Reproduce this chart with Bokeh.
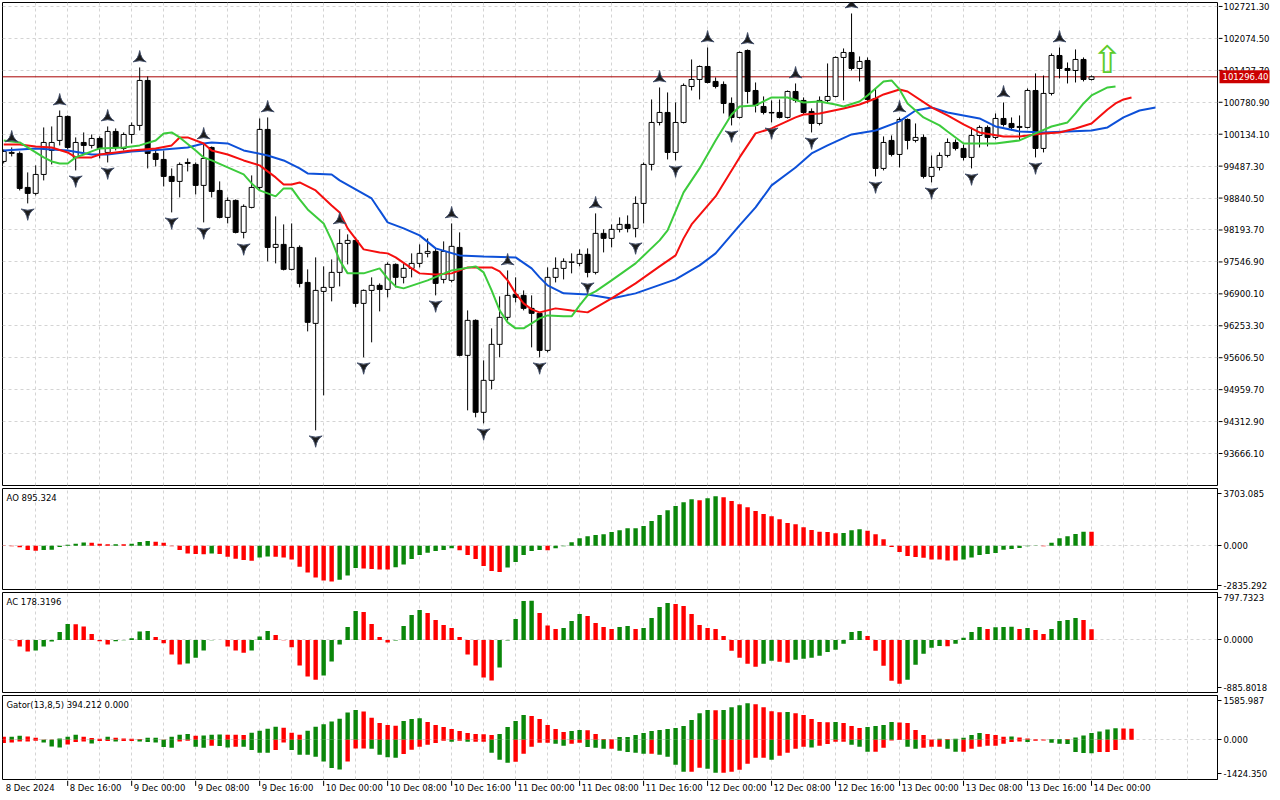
import numpy as np
from bokeh.plotting import figure
from bokeh.layouts import column, row
from bokeh.models import (Range1d, FixedTicker, CustomJSTickFormatter,
                          Span, ColumnDataSource, Grid)
from bokeh.embed import file_html
from bokeh.resources import INLINE
from bokeh.core.properties import value

# ---------------- data (H1 candles, 8 Dec 08:00 -> 14 Dec 00:00) ----------------
open_ = [99583, 99745, 99745, 99056, 98935, 99319, 99805, 100008, 100494, 99664,
         99967, 99907, 100048, 99765, 100190, 99846, 100129, 100312, 101223, 99745,
         99623, 99279, 99178, 99562, 99522, 99097, 99866, 98995, 98449, 98793,
         98145, 98651, 99056, 100231, 97841, 97902, 97396, 97841, 97132, 96302,
         96950, 97031, 97335, 97922, 97983, 96707, 96970, 97072, 96990, 97497,
         97234, 97416, 97517, 97720, 97760, 97193, 97173, 97841, 95654, 96363,
         94500, 95148, 95877, 96424, 96889, 96869, 96606, 96505, 95755, 97234,
         97416, 97538, 97517, 97700, 97335, 98125, 98024, 98206, 98307, 98226,
         98732, 99522, 100372, 100575, 99765, 100372, 101101, 101243, 101506, 101203,
         101142, 100757, 100474, 101830, 101020, 100696, 100575, 100575, 100474, 101000,
         100818, 100595, 100352, 100818, 100899, 101689, 101790, 101466, 101628, 100858,
         99441, 100008, 99724, 100433, 100008, 100069, 99279, 99461, 99704, 99967,
         99846, 99664, 100109, 100271, 100069, 100453, 100352, 100271, 100271, 101020,
         99846, 100960, 101729, 101466, 101425, 101648, 101243]
high = [99826, 99866, 99785, 99360, 99502, 100271, 100291, 100615, 100514, 100069,
        100170, 100129, 100089, 100291, 100251, 100170, 100372, 101486, 101304, 99846,
        99805, 99441, 99562, 99643, 99562, 99927, 99886, 99178, 98854, 98813,
        98712, 99299, 100453, 100474, 98469, 98307, 98327, 97882, 97396, 97639,
        97457, 97598, 98206, 98105, 98044, 96990, 97234, 97112, 97538, 97517,
        97517, 97720, 97902, 98024, 97821, 97963, 98327, 98145, 96565, 96383,
        95553, 96201, 96849, 97375, 97234, 96970, 96869, 96525, 97436, 97639,
        97619, 97720, 97801, 97821, 98530, 98206, 98307, 98449, 98489, 98874,
        99562, 100838, 101081, 100980, 100777, 101162, 101648, 101527, 101891, 101284,
        101203, 100879, 101810, 101851, 101182, 100899, 100818, 100838, 101020, 101162,
        100879, 100656, 100899, 101567, 101709, 101871, 102580, 101709, 101689, 101061,
        100089, 100109, 100474, 100453, 100352, 100129, 99704, 99765, 100048, 100028,
        99927, 100271, 100312, 100312, 100555, 100777, 100474, 100514, 101061, 101365,
        101324, 101770, 101891, 101587, 101851, 101689, 101324]
low = [99542, 99684, 98995, 98732, 98894, 99198, 99522, 99907, 99826, 99400,
       99765, 99846, 99643, 99562, 99805, 99805, 99947, 100210, 99441, 99481,
       99076, 98550, 98854, 99380, 98914, 98348, 98854, 98429, 98327, 98125,
       98024, 98631, 98995, 97558, 97517, 97375, 97375, 97031, 96140, 94135,
       94844, 96748, 97051, 97497, 96626, 95614, 95918, 96545, 96829, 97031,
       97112, 97234, 97436, 97639, 96869, 97112, 97132, 95634, 94540, 94399,
       94277, 94966, 95614, 96363, 96727, 96565, 95816, 95614, 95715, 97132,
       97193, 97315, 97457, 97234, 97294, 97740, 97841, 98145, 98145, 98044,
       98327, 99400, 100312, 99623, 99603, 100352, 101020, 100838, 101162, 101061,
       100555, 100312, 100453, 100757, 100575, 100534, 100372, 100453, 100453, 100777,
       100534, 100170, 100312, 100777, 100879, 100818, 101425, 101203, 100757, 99279,
       99400, 99684, 99461, 99826, 99967, 99238, 99157, 99400, 99664, 99805,
       99603, 99441, 99866, 99886, 100028, 100291, 100210, 100008, 100251, 99664,
       99765, 100919, 101264, 101162, 101182, 101203, 101223]
close = [99785, 99765, 99036, 98935, 99319, 99967, 99967, 100494, 99866, 99967,
         99907, 100048, 99846, 100190, 99866, 100129, 100312, 101223, 99745, 99623,
         99279, 99178, 99522, 99542, 99097, 99643, 98975, 98449, 98793, 98145,
         98672, 99056, 100231, 97841, 97902, 97396, 97841, 97112, 96323, 96970,
         97031, 97335, 97922, 97983, 96707, 96970, 97072, 96990, 97497, 97234,
         97416, 97517, 97720, 97760, 97112, 97760, 97862, 95654, 96363, 94500,
         95148, 95877, 96424, 96869, 96829, 96606, 96505, 95755, 97234, 97416,
         97558, 97548, 97700, 97335, 98125, 98024, 98206, 98307, 98226, 98732,
         99522, 100372, 100575, 99765, 100372, 101122, 101243, 101506, 101182, 101101,
         100757, 100474, 101790, 101000, 100717, 100575, 100565, 100474, 101000, 100818,
         100575, 100352, 100818, 100899, 101689, 101790, 101466, 101608, 100838, 99441,
         99967, 99724, 100433, 100008, 100069, 99279, 99461, 99704, 99967, 99846,
         99664, 100109, 100271, 100069, 100453, 100332, 100271, 100291, 101020, 99846,
         100960, 101729, 101466, 101425, 101648, 101243, 101296.4]

# Bill Williams fractals (bar indices)
fractal_up = [1, 7, 13, 17, 25, 33, 42, 56, 63, 74, 82, 88, 93, 99, 106, 112, 125, 132]
fractal_down = [3, 9, 13, 21, 25, 30, 39, 45, 54, 60, 67, 73, 79, 84, 91, 96, 101, 109, 116, 121, 129]

# Alligator (already shifted forward)
jaw_x = [0, 4, 8, 11, 13, 16, 20, 23, 25, 26, 28, 30, 33, 35, 37, 38, 41, 42, 44, 46,
         47, 48, 50, 52, 54, 57, 60, 64, 66, 67, 68, 70, 73, 76, 79, 84, 87, 89, 92, 94,
         96, 99, 101, 103, 106, 109, 112, 114, 116, 118, 122, 124, 127, 130, 133, 136, 138, 140, 142, 144]
jaw = [99805, 99846, 99805, 99724, 99724, 99785, 99826, 99866, 99947, 99967,
       99947, 99805, 99704, 99603, 99441, 99340, 99319, 99198, 99016, 98833,
       98590, 98348, 98226, 98085, 97821, 97679, 97659, 97639, 97416, 97234,
       97072, 96910, 96889, 96808, 96910, 97193, 97477, 97720, 98287, 98651,
       99097, 99461, 99745, 99907, 100129, 100210, 100393, 100615, 100676, 100575,
       100453, 100291, 100190, 100170, 100190, 100210, 100271, 100474, 100615, 100676]
teeth_x = [0, 2, 4, 6, 8, 9, 11, 12, 14, 16, 19, 21, 22, 23, 25, 26, 28, 30, 32, 34,
           35, 36, 37, 39, 41, 42, 43, 45, 47, 48, 49, 51, 52, 54, 56, 58, 61, 62, 63, 64,
           65, 66, 67, 69, 71, 73, 76, 79, 82, 84, 85, 86, 89, 92, 94, 96, 99, 100, 102, 105,
           107, 109, 110, 112, 113, 116, 118, 120, 122, 125, 127, 130, 132, 134, 136, 138, 139, 140, 141]
teeth = [99927, 99927, 99886, 99866, 99765, 99664, 99664, 99724, 99765, 99805,
         99846, 99907, 100069, 100069, 99947, 99805, 99724, 99603, 99502, 99259,
         99117, 99117, 99157, 98995, 98692, 98550, 98226, 97801, 97740, 97720,
         97639, 97416, 97315, 97294, 97315, 97436, 97436, 97355, 97173, 96910,
         96707, 96585, 96525, 96606, 96565, 96525, 96808, 97112, 97457, 97679,
         98024, 98307, 98874, 99664, 100150, 100251, 100474, 100534, 100555, 100656,
         100737, 100858, 100939, 101041, 101000, 100676, 100514, 100332, 100170, 100089,
         100089, 100150, 100170, 100251, 100352, 100636, 100757, 100838, 100879]
lips_x = [0, 2, 4, 5, 6, 7, 8, 9, 10, 11, 12, 15, 17, 19, 20, 21, 22, 24, 25, 26,
          28, 30, 31, 32, 34, 35, 36, 37, 38, 40, 41, 42, 43, 45, 47, 48, 49, 50, 53, 56,
          59, 60, 61, 62, 63, 64, 65, 67, 68, 70, 71, 72, 73, 74, 76, 79, 82, 83, 85, 87,
          89, 91, 92, 94, 96, 98, 100, 102, 104, 105, 107, 108, 110, 111, 112, 113, 115, 117, 118, 120,
          122, 124, 127, 129, 131, 133, 134, 135, 136, 138, 139]
lips = [100008, 99967, 99765, 99664, 99583, 99542, 99542, 99664, 99724, 99785,
        99846, 99866, 99907, 100008, 100150, 100170, 100069, 99805, 99664, 99603,
        99461, 99319, 99137, 98995, 98874, 99036, 99036, 98813, 98611, 98327,
        97983, 97578, 97315, 97315, 97416, 97213, 97051, 97011, 97173, 97375,
        97457, 97335, 96970, 96565, 96323, 96201, 96201, 96404, 96464, 96444,
        96444, 96667, 96869, 96950, 97173, 97517, 97983, 98185, 98955, 99441,
        100008, 100534, 100696, 100717, 100879, 100879, 100777, 100798, 100737, 100696,
        100798, 100919, 101203, 101223, 101041, 100757, 100474, 100312, 100190, 99947,
        99947, 99947, 100008, 100150, 100291, 100372, 100555, 100757, 100919, 101081,
        101101]

current_price = 101296.40
current_price_label = "101296.40"
signal_bar = [138]
signal_price = [101640]

# Awesome Oscillator
ao = [-15, -43, -108, -281, -324, -281, -270, -86, 65, 130,
      200, 190, 130, 86, 100, 90, 120, 238, 302, 259,
      194, -43, -281, -497, -540, -550, -497, -540, -713, -842,
      -929, -972, -756, -691, -713, -756, -886, -1361, -1728, -2052,
      -2246, -2311, -2203, -1922, -1447, -1469, -1512, -1534, -1540, -1400,
      -1210, -864, -605, -454, -346, -281, -173, -302, -605, -864,
      -1318, -1642, -1706, -1404, -1058, -605, -346, -281, -302, -173,
      -43, 216, 475, 605, 691, 734, 886, 994, 1123, 1130,
      1274, 1598, 1987, 2290, 2570, 2808, 3002, 2938, 3067, 3197,
      3132, 2894, 2678, 2484, 2246, 2052, 1901, 1706, 1469, 1382,
      1188, 1015, 907, 886, 799, 821, 994, 1058, 972, 734,
      410, -86, -410, -670, -734, -778, -886, -890, -950, -955,
      -886, -756, -605, -540, -475, -270, -216, -151, -43, -20,
      -30, 194, 475, 605, 756, 905, 895.324]
# Accelerator Oscillator
ac = [-3, -5, -112, -196, -179, -112, -28, 134, 269, 265,
      224, 101, -22, -78, -22, -5, 28, 140, 148, 50,
      -56, -246, -414, -398, -302, -179, -8, -3, -112, -179,
      -218, -179, 56, 151, 84, -5, -123, -431, -616, -672,
      -599, -364, -78, 218, 487, 470, 269, 50, -45, -11,
      235, 420, 504, 454, 336, 252, 202, 50, -246, -431,
      -633, -683, -465, -11, 353, 655, 660, 454, 241, 185,
      202, 319, 437, 403, 286, 218, 185, 218, 235, 185,
      202, 370, 554, 622, 605, 571, 437, 252, 202, 185,
      67, -185, -302, -403, -454, -403, -353, -370, -386, -336,
      -319, -302, -269, -202, -168, -67, 134, 151, 67, -185,
      -437, -689, -739, -672, -420, -235, -134, -101, -106, -67,
      34, 134, 218, 185, 212, 216, 222, 185, 202, 168,
      101, 185, 319, 336, 370, 336, 178.3196]
# Gator oscillator: upper |jaw-teeth|, lower -|teeth-lips|
gator_up = [107, 110, 143, 119, 72, 10, 5, 48, 107, 179,
            107, 60, 36, 107, 72, 48, 36, 24, 72, 76,
            5, 107, 179, 203, 143, 150, 179, 185, 179, 175,
            170, 250, 322, 394, 465, 430, 250, 179, 322, 465,
            560, 656, 752, 978, 1062, 1014, 787, 597, 525, 500,
            668, 740, 775, 632, 525, 453, 382, 310, 239, 203,
            200, 167, 203, 453, 668, 883, 847, 740, 525, 382,
            274, 310, 346, 340, 203, 24, 20, 95, 100, 167,
            239, 310, 346, 382, 418, 489, 704, 954, 1062, 1060,
            1065, 1169, 1241, 1312, 1276, 1169, 1026, 990, 995, 954,
            883, 740, 632, 625, 640, 597, 489, 418, 453, 489,
            525, 632, 620, 597, 346, 167, 12, 36, 30, 36,
            72, 167, 239, 203, 167, 107, 119, 84, 48, 20,
            10, 24, 30, 28, 84, 155, 239, 298, 370, 410,
            400, 394.212]
gator_down = [-119, -95, -60, -60, -36, -95, -239, -274, -167, -84,
              -60, -131, -48, -48, -60, -48, -48, -60, -84, -95,
              -262, -286, -60, -36, -250, -286, -215, -220, -274, -250,
              -255, -370, -465, -470, -370, -95, -370, -537, -540, -609,
              -776, -1014, -1062, -776, -310, -310, -320, -537, -630, -644,
              -513, -358, -250, -179, -119, -36, -72, -36, -72, -72,
              -72, -465, -716, -823, -787, -501, -250, -107, -107, -143,
              -215, -143, -107, -262, -286, -322, -322, -394, -441, -465,
              -501, -501, -537, -608, -895, -1145, -1145, -1002, -1038, -1181,
              -1181, -1145, -1074, -859, -644, -644, -716, -573, -465, -322,
              -250, -274, -215, -150, -72, -72, -179, -250, -429, -429,
              -286, -24, -12, -250, -322, -286, -250, -250, -322, -429,
              -429, -322, -250, -215, -215, -143, -84, -60, -84, -40,
              -24, -107, -143, -155, -441, -477, -480, -441, -441, -370]

# axes
price_ticks = [93666.10, 94312.90, 94959.70, 95606.50, 96253.30, 96900.10, 97546.90, 98193.70,
               98840.50, 99487.30, 100134.10, 100780.90, 101427.70, 102074.50, 102721.30]
price_tick_labels = ["93666.10", "94312.90", "94959.70", "95606.50", "96253.30", "96900.10",
                     "97546.90", "98193.70", "98840.50", "99487.30", "100134.10", "100780.90",
                     "101427.70", "102074.50", "102721.30"]
main_range = (93018, 102802)
ao_range = (-2835.292, 3703.085)
ao_ticks = [-2576, 0, 3379]
ao_tick_labels = ["-2835.292", "0.000", "3703.085"]
ac_range = (-885.8018, 797.7323)
ac_ticks = [-802, 0, 714]
ac_tick_labels = ["-885.8018", "0.0000", "797.7323"]
gator_range = (-1424.350, 1585.987)
gator_ticks = [-1209, 0, 1407]
gator_tick_labels = ["-1424.350", "0.000", "1585.987"]
time_label_bars = [0, 8, 16, 24, 32, 40, 48, 56, 64, 72, 80, 88, 96, 104, 112, 120, 128, 136]
time_labels = ["8 Dec 2024", "8 Dec 16:00", "9 Dec 00:00", "9 Dec 08:00", "9 Dec 16:00",
               "10 Dec 00:00", "10 Dec 08:00", "10 Dec 16:00", "11 Dec 00:00", "11 Dec 08:00",
               "11 Dec 16:00", "12 Dec 00:00", "12 Dec 08:00", "12 Dec 16:00", "13 Dec 00:00",
               "13 Dec 08:00", "13 Dec 16:00", "14 Dec 00:00"]
ao_title = "AO 895.324"
ac_title = "AC 178.3196"
gator_title = "Gator(13,8,5) 394.212 0.000"

# ---------------- styling ----------------
W = 1278
LB = 2
RB = 61
STRIP_W = W - 1217 - 1
FONT = "DejaVu Sans"
FS = "8.5px"
GRID_C = "#d4d4d4"
HIST_G = "#0a870a"
HIST_R = "#ff0000"
JAW_C = "#0d50d8"
TEETH_C = "#f50f0f"
LIPS_C = "#3ccb3c"
FR_GAP = 190

idx = list(range(len(close)))
xr = Range1d(-0.15, 151.75)
vgrid = list(range(4, 152, 4))


def mkfig(width, h, yr, top, bottom, right, yaxis=True):
    p = figure(width=width, height=h, x_range=xr, y_range=Range1d(*yr), output_backend="svg",
               toolbar_location=None, x_axis_location=None,
               y_axis_location="right" if yaxis else None,
               min_border_left=LB, min_border_right=right, min_border_top=top,
               min_border_bottom=bottom, background_fill_color="white",
               border_fill_color="white")
    p.outline_line_color = "black"
    p.outline_line_width = 1
    p.outline_line_alpha = 1.0
    if len(p.xgrid) == 0:
        p.add_layout(Grid(dimension=0), "center")
    p.xgrid.ticker = FixedTicker(ticks=vgrid)
    p.xgrid.grid_line_color = GRID_C
    p.xgrid.grid_line_dash = "3 3"
    return p


def style_axis(p, ticks, labels, grid_ticks):
    p.ygrid.ticker = FixedTicker(ticks=grid_ticks)
    p.ygrid.grid_line_color = GRID_C
    p.ygrid.grid_line_dash = "3 3"
    ax = p.yaxis[0]
    ax.ticker = FixedTicker(ticks=ticks)
    ax.formatter = CustomJSTickFormatter(args=dict(labels=labels), code="return labels[index];")
    ax.axis_line_color = "black"
    ax.major_tick_line_color = "black"
    ax.major_tick_out = 4
    ax.major_tick_in = 0
    ax.minor_tick_line_color = None
    ax.major_label_standoff = 2
    ax.major_label_text_font = FONT
    ax.major_label_text_font_size = FS
    ax.major_label_text_color = "black"


def add_title(p, yr, text):
    p.text(x=[xr.start], y=[yr[1]], text=[text], text_font=value(FONT), text_font_size=value(FS),
           text_color="black", text_align="left", text_baseline="top", x_offset=4, y_offset=4)


def hist_colors(vals, absolute=False):
    out = []
    for i, v in enumerate(vals):
        a = abs(v) if absolute else v
        b = (abs(vals[i - 1]) if absolute else vals[i - 1]) if i > 0 else None
        out.append(HIST_G if (b is not None and a > b) else HIST_R)
    return out


# ---------------- main price panel ----------------
pm = mkfig(1218, 486, main_range, top=2, bottom=1, right=1, yaxis=False)
pm.ygrid.ticker = FixedTicker(ticks=price_ticks)
pm.ygrid.grid_line_color = GRID_C
pm.ygrid.grid_line_dash = "3 3"

pm.add_layout(Span(location=current_price, dimension="width", line_color="#a80000",
                   line_width=1, level="underlay"))

src = ColumnDataSource(dict(
    x=idx, o=open_, h=high, l=low, c=close,
    top=[max(a, b) for a, b in zip(open_, close)],
    bot=[min(a, b) for a, b in zip(open_, close)],
    fill=["white" if c > o else "black" for o, c in zip(open_, close)]))
pm.segment(x0="x", y0="l", x1="x", y1="h", source=src, line_color="black", line_width=1)
pm.vbar(x="x", width=0.62, top="top", bottom="bot", fill_color="fill", line_color="black",
        line_width=1, source=src)

pm.line(jaw_x, jaw, line_color=JAW_C, line_width=2)
pm.line(teeth_x, teeth, line_color=TEETH_C, line_width=2)
pm.line(lips_x, lips, line_color=LIPS_C, line_width=2)

pm.scatter(fractal_up, [high[i] + FR_GAP for i in fractal_up], marker="triangle_pin", size=13,
           fill_color="#1c1c1c", line_color="#44506a", line_width=1)
pm.scatter(fractal_down, [low[i] - FR_GAP for i in fractal_down], marker="triangle_pin", size=13,
           angle=np.pi, fill_color="#1c1c1c", line_color="#44506a", line_width=1)

pm.text(x=signal_bar, y=signal_price, text=["\u21e7"], text_font=value(FONT),
        text_font_size=value("38px"), text_color="#5ccc2c", text_align="center",
        text_baseline="middle")

# price scale strip (right of the main frame), sharing the main price scale
ps = figure(width=STRIP_W, height=486, x_range=Range1d(0, STRIP_W), y_range=pm.y_range,
            output_backend="svg", toolbar_location=None, x_axis_location=None,
            y_axis_location=None, min_border_left=0, min_border_right=0, min_border_top=2,
            min_border_bottom=1, background_fill_color="white", border_fill_color="white")
ps.outline_line_color = None
ps.grid.visible = False
ps.segment(x0=[0] * len(price_ticks), y0=price_ticks, x1=[4] * len(price_ticks), y1=price_ticks,
           line_color="black", line_width=1)
ps.text(x=[5] * len(price_ticks), y=price_ticks, text=price_tick_labels, text_font=value(FONT),
        text_font_size=value(FS), text_color="black", text_align="left", text_baseline="middle")
ps.rect(x=[26], y=[current_price], width=50, height=13, width_units="screen",
        height_units="screen", fill_color="#cc0000", line_color=None)
ps.text(x=[4], y=[current_price], text=[current_price_label], text_font=value(FONT),
        text_font_size=value(FS), text_color="white", text_align="left", text_baseline="middle")

# ---------------- AO ----------------
pa = mkfig(W, 104, ao_range, top=2, bottom=1, right=RB)
style_axis(pa, ao_ticks, ao_tick_labels, [0])
pa.vbar(x=idx, top=ao, bottom=0, width=0.55, fill_color=hist_colors(ao), line_color=None)
add_title(pa, ao_range, ao_title)

# ---------------- AC ----------------
pc = mkfig(W, 103, ac_range, top=2, bottom=1, right=RB)
style_axis(pc, ac_ticks, ac_tick_labels, [0])
pc.vbar(x=idx, top=ac, bottom=0, width=0.55, fill_color=hist_colors(ac), line_color=None)
add_title(pc, ac_range, ac_title)

# ---------------- Gator ----------------
pg = mkfig(W, 87, gator_range, top=2, bottom=1, right=RB)
style_axis(pg, gator_ticks, gator_tick_labels, [0])
pg.vbar(x=list(range(len(gator_up))), top=gator_up, bottom=0, width=0.55,
        fill_color=hist_colors(gator_up), line_color=None)
pg.vbar(x=list(range(len(gator_down))), top=0, bottom=gator_down, width=0.55,
        fill_color=hist_colors(gator_down, absolute=True), line_color=None)
add_title(pg, gator_range, gator_title)

# ---------------- time labels strip ----------------
px = figure(width=W, height=18, x_range=xr, y_range=Range1d(0, 1), output_backend="svg",
            toolbar_location=None, x_axis_location=None, y_axis_location=None,
            min_border_left=LB, min_border_right=RB, min_border_top=0, min_border_bottom=0,
            background_fill_color="white", border_fill_color="white")
px.outline_line_color = None
px.grid.visible = False
tick_bars = time_label_bars[1:]
px.segment(x0=tick_bars, y0=[1] * len(tick_bars), x1=tick_bars, y1=[0.7] * len(tick_bars),
           line_color="black", line_width=1)
px.text(x=time_label_bars, y=[0.58] * len(time_label_bars), text=time_labels,
        text_font=value(FONT), text_font_size=value(FS), text_color="black",
        text_align="left", text_baseline="middle", x_offset=2)

layout = column(row(pm, ps, spacing=0), pa, pc, pg, px, spacing=0)
open("out.html", "w").write(file_html(layout, INLINE))
